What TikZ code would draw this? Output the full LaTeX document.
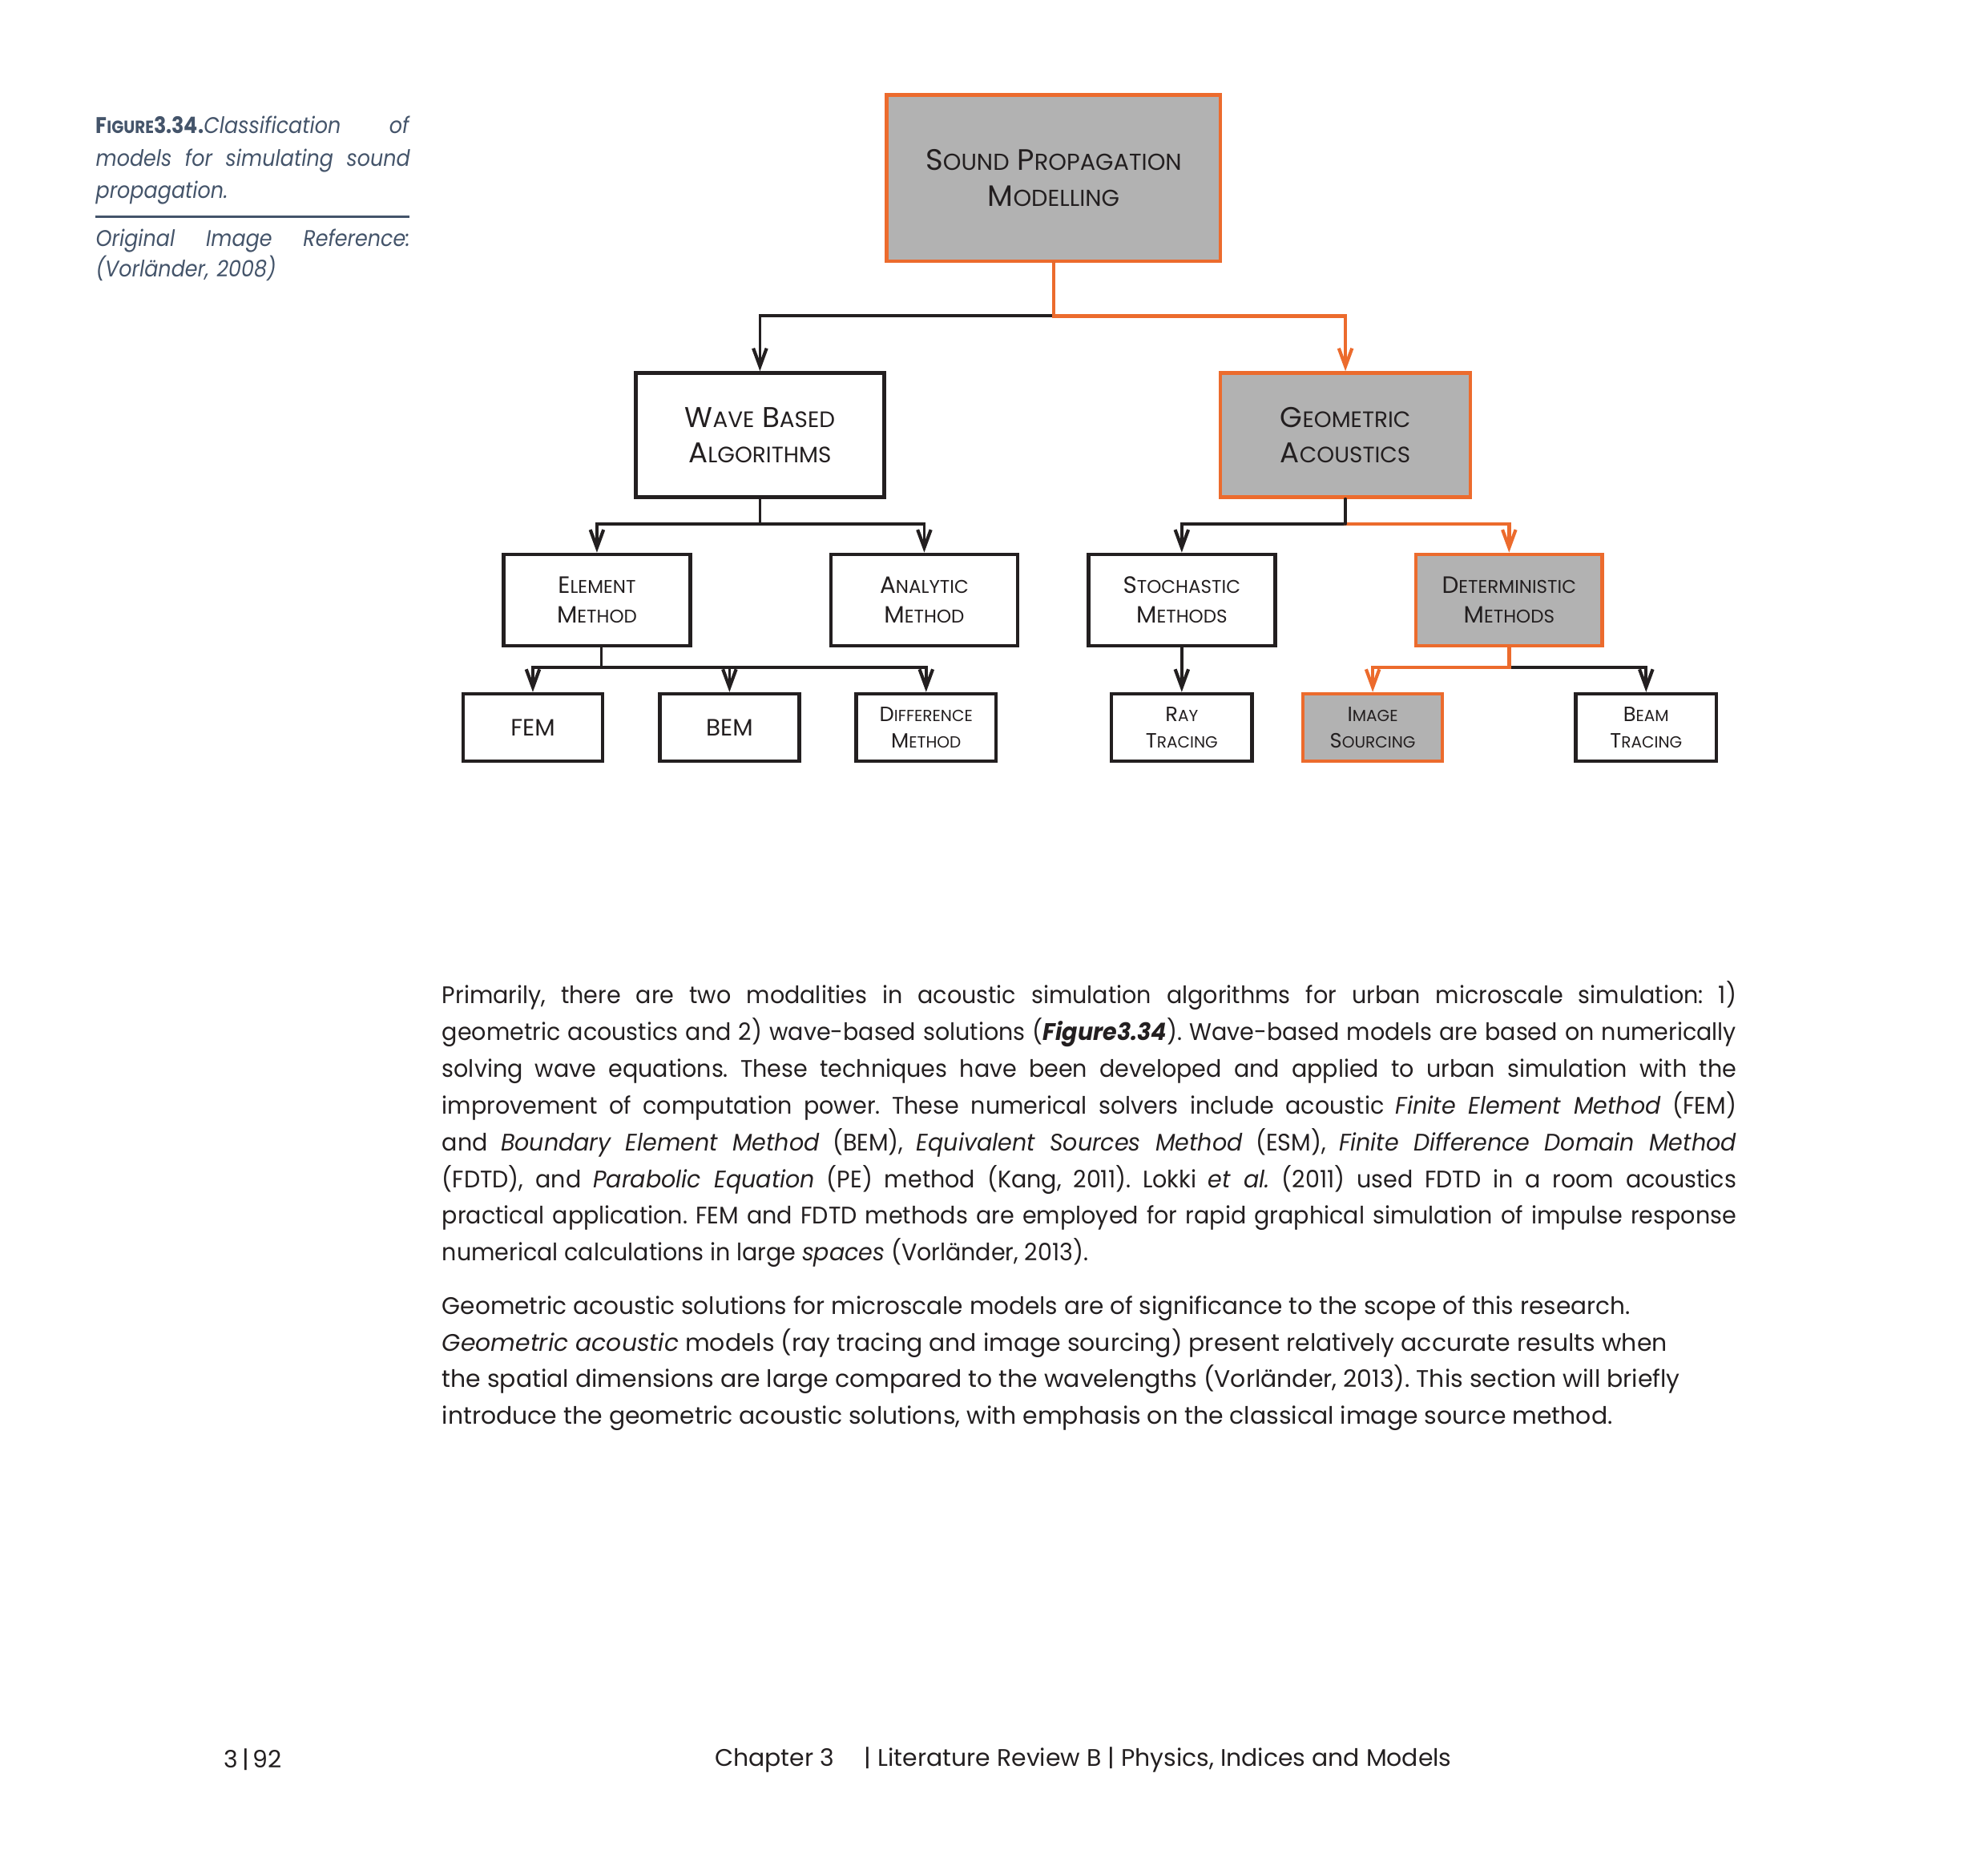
\documentclass[tikz,border=0pt]{standalone}
\usepackage{fontspec}
\setmainfont{Poppins}
\newfontfamily\narrowfont{Poppins}[FakeStretch=0.955]
\newfontfamily\slimfont{Poppins}[FakeStretch=0.988]
\newfontfamily\captfont{Poppins}[FakeStretch=0.9]
\usepackage{graphicx}
\usetikzlibrary{arrows.meta,calc}
\definecolor{ink}{HTML}{231F20}
\definecolor{slate}{HTML}{44546A}
\definecolor{boxgray}{HTML}{B2B2B2}
\definecolor{hotline}{HTML}{EC6B2D}
% fake small caps: big initial, smaller rest
\newcommand\fsc[2]{#1\scalebox{0.78}{#2}}
\def\upx{0.13401mm}
\frenchspacing
\tikzset{
  box/.style={draw=ink, line width=1.1pt, fill=white, align=center, text=ink, inner sep=0pt},
  hot/.style={box, draw=hotline, fill=boxgray},
  sz/.style 2 args={minimum width=#1*\upx, minimum height=#2*\upx},
  tA/.style={font=\fontsize{8.6}{10.6}\selectfont},
  tB/.style={font=\fontsize{7.1}{8.8}\selectfont},
  tC/.style={font=\fontsize{6.2}{8.1}\selectfont},
  blk/.style={draw=ink, line width=0.9pt, line cap=round},
  hotc/.style={draw=hotline, line width=1.1pt, line cap=round},
  tip/.style={-{Straight Barb[length=1.9mm, width=1.4mm, line width=1pt]}},
  body/.style={font=\fontsize{7.2}{11.05}\selectfont, text=ink, inner sep=0pt},
  capt/.style={font=\captfont\fontsize{6.8}{9.8}\selectfont, text=slate, inner sep=0pt},
}

\begin{document}
\begin{tikzpicture}[x=\upx, y=-\upx]
  \useasboundingbox[fill=white] (0,0) rectangle (1567,1477);

  % caption column
  \node[capt, anchor=north west, text width=33.2mm, align=justify] (cap) at (75,91)
    {\hyphenpenalty=10000 \textbf{F\scalebox{0.78}{IGURE}3.34.}\textit{Classification \hfill of}\linebreak
     \textit{models for simulating sound}\linebreak \textit{propagation.}};
  \draw[slate, line width=0.6pt] (75,171) -- (323,171);
  \node[capt, anchor=north west, text width=33.2mm, align=left,
        font=\captfont\fontsize{6.8}{7.9}\selectfont] (ref) at (75,180)
    {\textit{Original \hfill Image \hfill Reference:}\\ \textit{(Vorländer, 2008)}};

  % tree boxes
  \node[hot, sz={263}{131}, tA, font=\fontsize{8.9}{10.8}\selectfont] (spm) at (830.5,140.5) {\fsc{S}{OUND} \fsc{P}{ROPAGATION}\\ \fsc{M}{ODELLING}};
  \node[box, sz={196}{98}, tA] (wba) at (599,343) {\fsc{W}{AVE} \fsc{B}{ASED}\\ \fsc{A}{LGORITHMS}};
  \node[hot, sz={197}{98}, tA] (ga) at (1060.5,343) {\fsc{G}{EOMETRIC}\\ \fsc{A}{COUSTICS}};
  \node[box, sz={147}{72}, tB] (elem) at (470.5,473) {\fsc{E}{LEMENT}\\ \fsc{M}{ETHOD}};
  \node[box, sz={147}{72}, tB] (anal) at (728.5,473) {\fsc{A}{NALYTIC}\\ \fsc{M}{ETHOD}};
  \node[box, sz={147}{72}, tB] (stoch) at (931.5,473) {\fsc{S}{TOCHASTIC}\\ \fsc{M}{ETHODS}};
  \node[hot, sz={147}{72}, tB] (det) at (1189.5,473) {\fsc{D}{ETERMINISTIC}\\ \fsc{M}{ETHODS}};
  \node[box, sz={110}{53}, tB] (fem) at (420,573.5) {FEM};
  \node[box, sz={110}{53}, tB] (bem) at (575,573.5) {BEM};
  \node[box, sz={110}{53}, tC] (diff) at (730,573.5) {\fsc{D}{IFFERENCE}\\ \fsc{M}{ETHOD}};
  \node[box, sz={111}{53}, tC] (ray) at (931.5,573.5) {\fsc{R}{AY}\\ \fsc{T}{RACING}};
  \node[hot, sz={110}{53}, tC] (img) at (1082,573.5) {\fsc{I}{MAGE}\\ \fsc{S}{OURCING}};
  \node[box, sz={111}{53}, tC] (beam) at (1297.5,573.5) {\fsc{B}{EAM}\\ \fsc{T}{RACING}};

  % connectors
  \draw[blk, tip] (spm.south) -- (spm.south |- 0,249) -| (wba.north);
  \draw[hotc, tip] (spm.south) -- (spm.south |- 0,249) -| (ga.north);
  \draw[blk, tip] (wba.south) -- (wba.south |- 0,413) -| (elem.north);
  \draw[blk, tip] (wba.south) -- (wba.south |- 0,413) -| (anal.north);
  \draw[blk, tip] (ga.south) -- (ga.south |- 0,413) -| (stoch.north);
  \draw[hotc, tip] (ga.south |- 0,413) -| (det.north);
  \draw[blk] (ga.south) -- (ga.south |- 0,413);
  \foreach \leaf in {fem,bem,diff}
    \draw[blk, tip] ([xshift=3.5*\upx]elem.south) -- ([xshift=3.5*\upx]elem.south |- 0,526) -| (\leaf.north);
  \draw[blk, tip] (stoch.south) -- (ray.north);
  \draw[blk, tip] (det.south |- 0,526) -| (beam.north);
  \draw[hotc, tip] (det.south) -- (det.south |- 0,526) -| (img.north);

  % running text
  \node[body, anchor=north west, text width=136.7mm, align=justify] (para1) at (348,773)
    {\narrowfont\hyphenpenalty=10000
     Primarily, there are two modalities in acoustic simulation algorithms for urban microscale simulation: 1)\linebreak
     geometric acoustics and 2) wave-based solutions (\textbf{\textit{Figure3.34}}). Wave-based models are based on numerically\linebreak
     solving wave equations. These techniques have been developed and applied to urban simulation with the\linebreak
     improvement of computation power. These numerical solvers include acoustic \textit{Finite Element Method} (FEM)\linebreak
     and \textit{Boundary Element Method} (BEM), \textit{Equivalent Sources Method} (ESM), \textit{Finite Difference Domain Method}\linebreak
     (FDTD), and \textit{Parabolic Equation} (PE) method (Kang, 2011). Lokki \textit{et al.} (2011) used FDTD in a room acoustics\linebreak
     practical application. FEM and FDTD methods are employed for rapid graphical simulation of impulse response\linebreak
     numerical calculations in large \textit{spaces} (Vorländer, 2013).};
  \node[body, anchor=north west, align=left] (para2) at (348,1021)
    {\slimfont Geometric acoustic solutions for microscale models are of significance to the scope of this research.\\
     \textit{Geometric acoustic} models (ray tracing and image sourcing) present relatively accurate results when\\
     the spatial dimensions are large compared to the wavelengths (Vorländer, 2013). This section will briefly\\
     introduce the geometric acoustic solutions, with emphasis on the classical image source method.};

  % footer
  \node[body, anchor=west] (pgno) at (176,1387) {3\,|\,92};
  \node[body, anchor=west] (chap) at (563,1387) {Chapter 3\quad\ | Literature Review B | Physics, Indices and Models};
\end{tikzpicture}
\end{document}
